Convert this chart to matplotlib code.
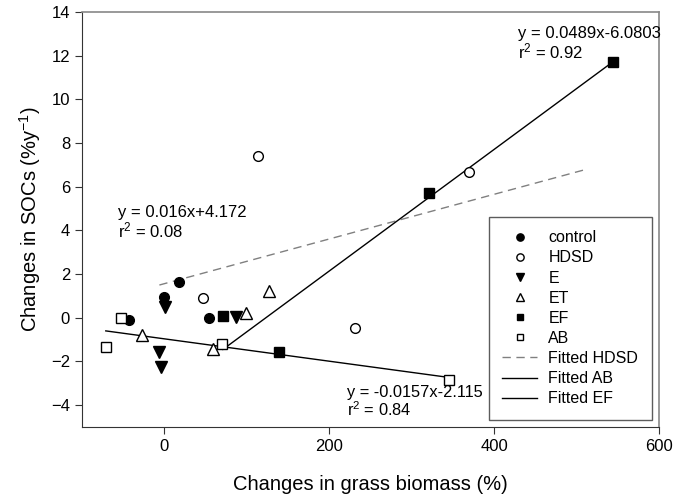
import matplotlib.pyplot as plt

plt.rcParams['font.family'] = ['Liberation Sans', 'DejaVu Sans']
plt.rcParams['mathtext.fontset'] = 'custom'
plt.rcParams['mathtext.rm'] = 'Liberation Sans'
plt.rcParams['mathtext.it'] = 'Liberation Sans:italic'

# points
control_x = [18, -1, -43, 54]
control_y = [1.65, 0.96, -0.1, 0.01]

hdsd_x = [113, 47, 231, 370]
hdsd_y = [7.4, 0.91, -0.49, 6.68]

e_x = [1, -6, -4, 87]
e_y = [0.5, -1.56, -2.25, 0.04]

et_x = [-27, 59, 99, 127]
et_y = [-0.77, -1.45, 0.24, 1.23]

ef_x = [71, 139, 321, 544]
ef_y = [0.09, -1.56, 5.72, 11.72]

ab_x = [-52, -71, 70, 345]
ab_y = [-0.03, -1.33, -1.18, -2.83]

# fitted lines (end points as drawn)
fit_hdsd_x = [-6, 510]
fit_hdsd_y = [1.5, 6.78]
fit_ab_x = [-71, 345]
fit_ab_y = [-0.6, -2.73]
fit_ef_x = [71, 544]
fit_ef_y = [-1.45, 11.72]

fig = plt.figure(figsize=(6.88, 5), dpi=100)
ax = fig.add_axes([0.119, 0.146, 0.839, 0.830])

ms = 7
ax.plot(control_x, control_y, 'o', color='black', ms=ms, label='control')
ax.plot(hdsd_x, hdsd_y, 'o', mfc='white', mec='black', ms=ms, label='HDSD')
ax.plot(e_x, e_y, 'v', color='black', ms=ms + 1, label='E')
ax.plot(et_x, et_y, '^', mfc='white', mec='black', ms=ms + 1, label='ET')
ax.plot(ef_x, ef_y, 's', color='black', ms=ms - 0.5, label='EF')
ax.plot(ab_x, ab_y, 's', mfc='white', mec='black', ms=ms - 0.5, label='AB')

ax.plot(fit_hdsd_x, fit_hdsd_y, color='grey', ls=(0, (6, 4)), lw=1, label='Fitted HDSD', zorder=1)
ax.plot(fit_ab_x, fit_ab_y, color='black', lw=1, label='Fitted AB', zorder=1)
ax.plot(fit_ef_x, fit_ef_y, color='black', lw=1, label='Fitted EF', zorder=1)

ax.text(-56, 5.15, 'y = 0.016x+4.172\nr$^2$ = 0.08', fontsize=12, va='top', linespacing=1.0)
ax.text(429, 13.35, 'y = 0.0489x-6.0803\nr$^2$ = 0.92', fontsize=12, va='top', linespacing=1.0)
ax.text(221, -3.1, 'y = -0.0157x-2.115\nr$^2$ = 0.84', fontsize=11.8, va='top', linespacing=1.0)

ax.set_xlim(-100, 600)
ax.set_ylim(-5, 14)
ax.set_xticks([0, 200, 400, 600])
ax.set_yticks(range(-4, 15, 2))
ax.tick_params(labelsize=12, length=5, color='#333333')

for s in ['left', 'bottom']:
    ax.spines[s].set_color('#333333')
for s in ['top', 'right']:
    ax.spines[s].set_color('#888888')
    ax.spines[s].set_linewidth(1.2)

ax.set_xlabel('Changes in grass biomass (%)', fontsize=14.5, labelpad=15)
ax.set_ylabel('Changes in SOCs (%y$^{-1}$)', fontsize=14.5, labelpad=6)

leg = ax.legend(loc='lower right', fontsize=11.5, markerscale=0.75, handlelength=2.2,
                labelspacing=0.32, borderaxespad=0.45, fancybox=False,
                edgecolor='#333333', borderpad=0.85, handletextpad=0.7)
leg.get_frame().set_linewidth(1)

fig.savefig('out.png', dpi=100)
